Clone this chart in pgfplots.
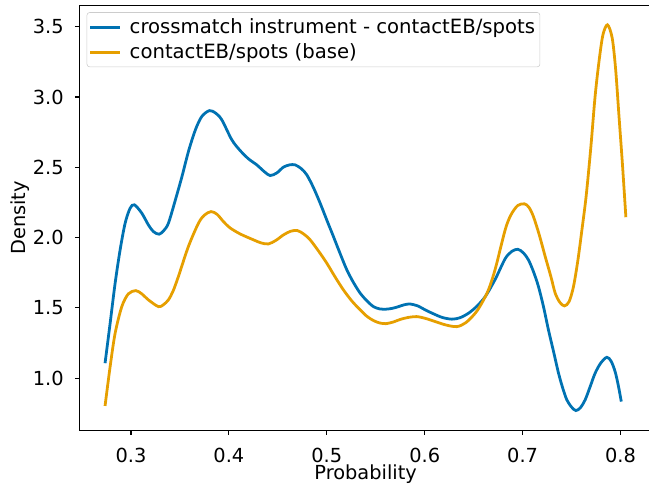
\documentclass[border=0pt]{standalone}
\usepackage{pgfplots}
\pgfplotsset{compat=1.18}
\usepackage{fontspec}
\setmainfont{DejaVu Sans}
\definecolor{cbblue}{HTML}{0072B2}
\definecolor{cborange}{HTML}{E69F00}
\newcommand{\lblfont}{\fontsize{14}{16.8}\selectfont}
\newcommand{\legfont}{\fontsize{14.2}{17}\selectfont}
\begin{document}
\begin{tikzpicture}
\begin{axis}[
  name=ax, at={(0,0)}, anchor=south west,
  scale only axis, width=412.3bp, height=305.7bp,
  xmin=0.2472, xmax=0.8321, ymin=0.630, ymax=3.649,
  xtick={0.3,0.4,0.5,0.6,0.7,0.8},
  ytick={1.0,1.5,2.0,2.5,3.0,3.5},
  tick align=outside, tick pos=left,
  major tick length=3.2bp,
  axis line style={line width=0.8bp},
  every tick/.style={black, line width=0.8bp},
  /pgf/number format/assume math mode=true,
  /pgf/number format/.cd, fixed, fixed zerofill, precision=1, /pgfplots/.cd,
  ticklabel style={font=\lblfont},
  xticklabel style={anchor=north, inner sep=0pt, yshift=-9.4bp},
  yticklabel style={anchor=east, inner sep=0pt, xshift=-7.9bp},
  xlabel={Probability}, ylabel={Density},
  xlabel style={font=\lblfont, at={(axis description cs:0.5,0)}, anchor=base, yshift=-35.5bp},
  ylabel style={font=\lblfont, at={([xshift=-38.4bp]axis description cs:0,0.5)}, anchor=base, rotate=0},
  legend style={at={(0,1)}, anchor=north west, xshift=5.3bp, yshift=-4.7bp,
    draw=black!20, fill=white, fill opacity=0.8, text opacity=1,
    rounded corners=2bp, font=\legfont, inner xsep=1.5bp, inner ysep=2.5bp,
    row sep=1.7bp, cells={anchor=west}, nodes={inner xsep=2bp}},
  legend image code/.code={\draw[#1] (0bp,0bp) -- (21.6bp,0bp); \path (25.3bp,0bp);},
  legend cell align=left,
]
% KDE of the crossmatch instrument subset
\addplot[cbblue, line width=2bp, smooth, tension=0.5] coordinates {
(0.2735,1.107) (0.2787,1.391) (0.2838,1.676) (0.2889,1.913) (0.2940,2.102)
(0.2991,2.209) (0.3035,2.233) (0.3110,2.174) (0.3178,2.090) (0.3230,2.042)
(0.3287,2.024) (0.3335,2.050) (0.3382,2.102) (0.3451,2.262) (0.3519,2.430)
(0.3590,2.620) (0.3660,2.770) (0.3723,2.861) (0.3801,2.903) (0.3865,2.885)
(0.3928,2.837) (0.4030,2.695) (0.4115,2.619) (0.4200,2.560) (0.4285,2.517)
(0.4360,2.470) (0.4421,2.441) (0.4490,2.460) (0.4557,2.501) (0.4620,2.517)
(0.4677,2.517) (0.4740,2.490) (0.4796,2.446) (0.4864,2.355) (0.4932,2.245)
(0.5000,2.125) (0.5068,2.007) (0.5137,1.885) (0.5205,1.770) (0.5273,1.680)
(0.5341,1.605) (0.5410,1.550) (0.5477,1.509) (0.5540,1.493) (0.5605,1.491)
(0.5670,1.497) (0.5732,1.509) (0.5790,1.522) (0.5851,1.528) (0.5930,1.514)
(0.6005,1.486) (0.6090,1.458) (0.6180,1.432) (0.6278,1.420) (0.6360,1.430)
(0.6447,1.462) (0.6530,1.510) (0.6618,1.580) (0.6720,1.703) (0.6822,1.850)
(0.6890,1.902) (0.6952,1.917) (0.7010,1.890) (0.7060,1.841) (0.7110,1.760)
(0.7162,1.652) (0.7213,1.510) (0.7264,1.344) (0.7316,1.190) (0.7367,1.036)
(0.7410,0.930) (0.7452,0.846) (0.7500,0.795) (0.7544,0.770) (0.7590,0.790)
(0.7639,0.846) (0.7690,0.940) (0.7741,1.036) (0.7800,1.110) (0.7861,1.149)
(0.7905,1.120) (0.7946,1.045) (0.7980,0.940) (0.8008,0.834)
};
\addlegendentry{crossmatch instrument - contactEB/spots}
% KDE of the base sample
\addplot[cborange, line width=2bp, smooth, tension=0.5] coordinates {
(0.2735,0.803) (0.2787,1.083) (0.2838,1.320) (0.2906,1.509) (0.2973,1.600)
(0.3049,1.623) (0.3110,1.600) (0.3178,1.557) (0.3280,1.509) (0.3330,1.522)
(0.3382,1.557) (0.3430,1.620) (0.3484,1.723) (0.3586,1.936) (0.3689,2.102)
(0.3750,2.160) (0.3818,2.185) (0.3880,2.165) (0.3944,2.114) (0.4010,2.070)
(0.4115,2.026) (0.4251,1.984) (0.4330,1.962) (0.4404,1.955) (0.4480,1.980)
(0.4557,2.019) (0.4630,2.045) (0.4700,2.050) (0.4765,2.025) (0.4830,1.984)
(0.4915,1.905) (0.5000,1.818) (0.5085,1.720) (0.5170,1.628) (0.5255,1.550)
(0.5341,1.486) (0.5410,1.440) (0.5477,1.410) (0.5540,1.393) (0.5605,1.388)
(0.5680,1.400) (0.5750,1.418) (0.5830,1.432) (0.5920,1.438) (0.6010,1.425)
(0.6107,1.403) (0.6220,1.378) (0.6329,1.367) (0.6420,1.395) (0.6516,1.462)
(0.6580,1.530) (0.6651,1.628) (0.6720,1.775) (0.6822,2.055) (0.6880,2.160)
(0.6950,2.228) (0.7019,2.240) (0.7065,2.215) (0.7111,2.149) (0.7170,2.020)
(0.7231,1.865) (0.7290,1.720) (0.7333,1.605) (0.7380,1.540) (0.7428,1.514)
(0.7475,1.545) (0.7520,1.652) (0.7565,1.840) (0.7606,2.055) (0.7650,2.300)
(0.7698,2.650) (0.7740,3.000) (0.7780,3.250) (0.7820,3.440) (0.7867,3.513)
(0.7915,3.420) (0.7950,3.200) (0.7985,2.860) (0.8020,2.520) (0.8055,2.145)
};
\addlegendentry{contactEB/spots (base)}
\end{axis}
\pgfresetboundingbox
\useasboundingbox (-57.1bp,-39.4bp) rectangle (410.2bp,309.8bp);
\end{tikzpicture}
\end{document}
